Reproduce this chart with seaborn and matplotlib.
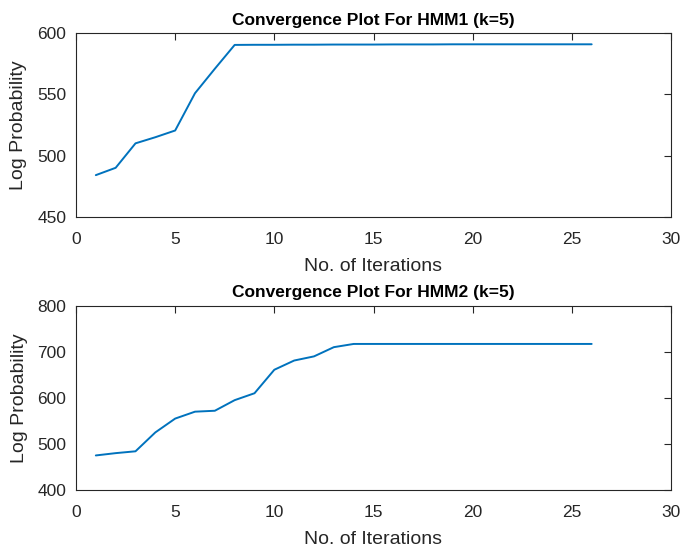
import matplotlib
matplotlib.use("Agg")
import matplotlib.pyplot as plt
import seaborn as sns
import pandas as pd

iterations = list(range(1, 27))
hmm1_logprob = [484, 490, 510, 515, 520.5, 551, 571, 590.5, 590.6, 590.6, 590.7,
                590.7, 590.8, 590.8, 590.8, 590.9, 590.9, 590.9, 591, 591, 591,
                591, 591, 591, 591, 591]
hmm2_logprob = [475, 480, 484, 525, 555, 570, 572, 595, 610, 661, 681, 690, 710,
                717, 717, 717, 717, 717, 717, 717, 717, 717, 717, 717, 717, 717]

titles = ["Convergence Plot For HMM1 (k=5)", "Convergence Plot For HMM2 (k=5)"]
xlabel = "No. of Iterations"
ylabel = "Log Probability"
xticks = [0, 5, 10, 15, 20, 25, 30]
yticks_1 = [450, 500, 550, 600]
yticks_2 = [400, 500, 600, 700, 800]

sns.set_style("white")
plt.rcParams["font.family"] = ["Liberation Sans", "DejaVu Sans"]

W, H = 681, 548
fig = plt.figure(figsize=(W / 100, H / 100), dpi=100)
dark = "#262626"
line_color = "#0072BD"

positions = [
    (76 / W, 1 - 216.7 / H, (671 - 76) / W, (216.7 - 33.3) / H),
    (76 / W, 1 - 490 / H, (671 - 76) / W, (490 - 305.7) / H),
]

for pos, vals, title, yt in zip(positions, [hmm1_logprob, hmm2_logprob], titles,
                                [yticks_1, yticks_2]):
    ax = fig.add_axes(pos)
    df = pd.DataFrame({"it": iterations, "lp": vals})
    sns.lineplot(data=df, x="it", y="lp", ax=ax, color=line_color, linewidth=1.4)
    ax.set_xlim(0, 30)
    ax.set_ylim(yt[0], yt[-1])
    ax.set_xticks(xticks)
    ax.set_yticks(yt)
    ax.set_xlabel(xlabel, fontsize=14, color=dark, labelpad=8)
    ax.set_ylabel(ylabel, fontsize=14, color=dark, labelpad=7)
    ax.set_title(title, fontsize=12.5, fontweight="bold", color="black", pad=6)
    ax.tick_params(direction="in", length=5, width=0.8, colors=dark,
                   labelsize=12.5, top=True, right=True)
    ax.tick_params(axis="x", pad=11)
    ax.tick_params(axis="y", pad=7)
    for sp in ax.spines.values():
        sp.set_visible(True)
        sp.set_color(dark)
        sp.set_linewidth(0.8)
    ax.set_facecolor("white")

fig.savefig("out.png", dpi=100, facecolor="white")
